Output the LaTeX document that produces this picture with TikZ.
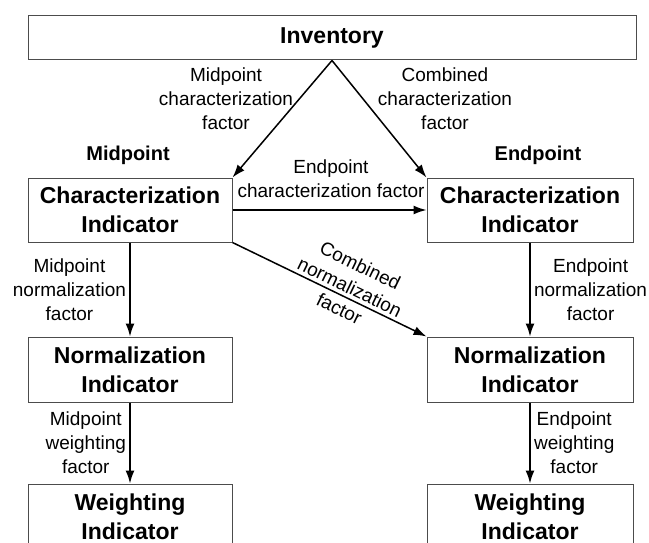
\documentclass[tikz,border=0pt]{standalone}
\usepackage{fontspec}
\setmainfont{Liberation Sans}
\usetikzlibrary{arrows.meta}

\tikzset{
  box/.style={draw=black!70, line width=1pt, align=center, inner sep=0pt,
    font=\fontsize{23}{29}\selectfont\bfseries},
  lbl/.style={align=center, font=\fontsize{19}{24}\selectfont},
  head/.style={font=\fontsize{20}{24}\selectfont\bfseries},
  arr/.style={-{Latex[length=13pt,width=9pt]}, line width=1.5pt}
}

\begin{document}
\begin{tikzpicture}[x=1pt,y=-1pt]
\useasboundingbox (0,0) rectangle (649,543);
 \draw (332,38) node[box, minimum width=608, minimum height=44] (inv) {Inventory};
  \draw (130,210) node[box, minimum width=204, minimum height=64] (charL) {Characterization\\Indicator};
  \draw (530,210) node[box, minimum width=206, minimum height=64] (charR) {Characterization\\Indicator};
    \draw (130,369.5) node[box, minimum width=204, minimum height=65] (normL) {Normalization\\Indicator};
    \draw (530,369.5) node[box, minimum width=206, minimum height=65] (normR) {Normalization\\Indicator};
	  \draw (130,516.5) node[box, minimum width=204, minimum height=65] (wgtL) {Weighting\\Indicator};
	  \draw (530,516.5) node[box, minimum width=206, minimum height=65] (wgtR) {Weighting\\Indicator};

 \draw (128,155) node[head] (mid) {Midpoint};
 \draw (538,155) node[head] (end) {Endpoint};
 \draw (226,99) node[lbl] (midchar) {Midpoint\\characterization\\factor};
 \draw (445,99) node[lbl] (combchar) {Combined\\characterization\\factor};
 \draw (331,179) node[lbl] (endchar) {Endpoint\\characterization factor};



     \path[arr] (inv.south) edge (charL.north east);
     \path[arr] (inv.south) edge (charR.north west);
     \path[arr] (charL.east) edge (charR.west);
     \path[arr] (charL.south east) edge node[lbl, sloped, pos=0.58, yshift=11pt] {Combined\\normalization\\factor} (normR.north west);
     \path[arr] (charL) edge node[lbl, left] {Midpoint\\normalization\\factor} (normL);
     \path[arr] (charR) edge node[lbl, right] {Endpoint\\normalization\\factor} (normR);
     \path[arr] (normL) edge node[lbl, left] {Midpoint\\weighting\\factor} (wgtL);
     \path[arr] (normR) edge node[lbl, right] {Endpoint\\weighting\\factor} (wgtR);
\end{tikzpicture}
\end{document}
